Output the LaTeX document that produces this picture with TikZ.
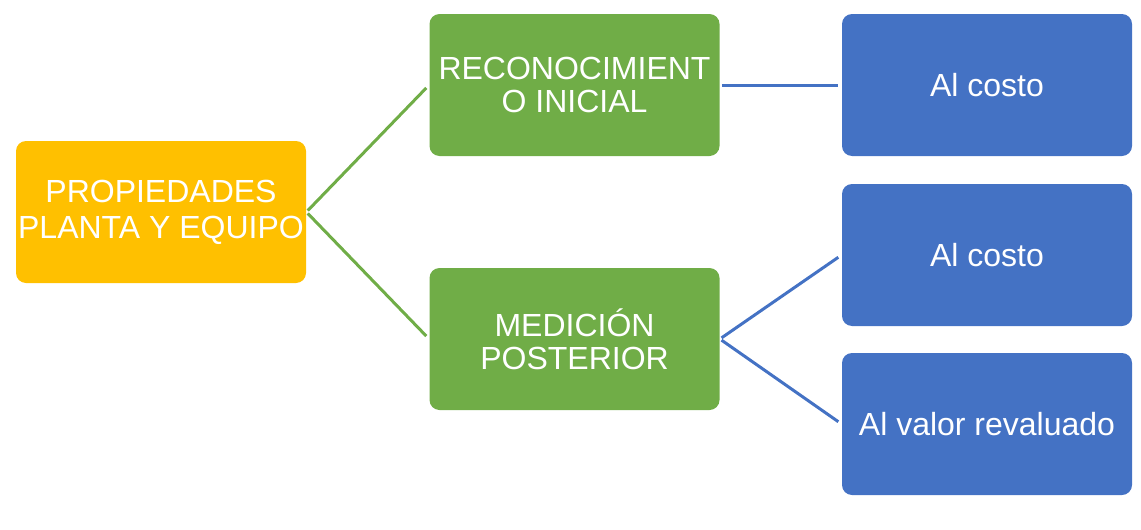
\documentclass[tikz,border=0pt]{standalone}
\usepackage{fontspec}
\setmainfont{Liberation Sans}
\usepackage{xcolor}
\definecolor{amarillo}{HTML}{FFC000}
\definecolor{verde}{HTML}{70AD47}
\definecolor{azul}{HTML}{4472C4}
\tikzstyle{caja}=[rounded corners=5pt, minimum width=145pt, minimum height=71pt, inner sep=0pt, align=center, text=white, font=\fontsize{16}{16.5}\selectfont]
\tikzstyle{rama}=[line width=1.5pt, shorten <=1pt, shorten >=2pt]

\begin{document}
\begin{tikzpicture}[x=0.5pt,y=-0.5pt]
      \useasboundingbox (0,0) rectangle (1141,530);
      \node (ppe) [caja, fill=amarillo, font=\fontsize{16}{18}\selectfont] at (161,212) {PROPIEDADES\\PLANTA Y EQUIPO};
      \node (rec) [caja, fill=verde] at (574.5,85) {RECONOCIMIENT\\O INICIAL};
      \node (med) [caja, fill=verde] at (574.5,339) {MEDICIÓN\\POSTERIOR};
      \node (c1) [caja, fill=azul] at (987,85) {Al costo};
      \node (c2) [caja, fill=azul] at (987,255) {Al costo};
      \node (rev) [caja, fill=azul] at (987,424) {Al valor revaluado};
      \draw [rama, verde] (ppe.east) -- (rec.west);
      \draw [rama, verde] (ppe.east) -- (med.west);
      \draw [rama, azul] (rec.east) -- (c1.west);
      \draw [rama, azul] (med.east) -- (c2.west);
      \draw [rama, azul] (med.east) -- (rev.west);
    \end{tikzpicture}
\end{document}
